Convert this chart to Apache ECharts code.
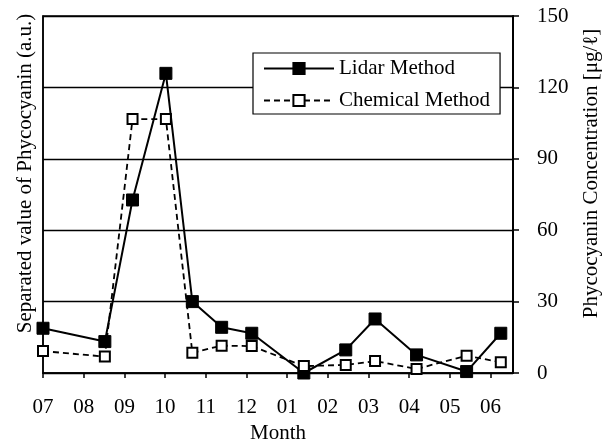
<!DOCTYPE html>
<html>
<head>
<meta charset="utf-8">
<script src="https://cdn.jsdelivr.net/npm/echarts@6/dist/echarts.min.js"></script>
<style>html,body{margin:0;padding:0;background:#fff}#c{width:608px;height:445px}</style>
</head>
<body>
<div id="c"></div>
<script>
var monthLabels = ['07','08','09','10','11','12','01','02','03','04','05','06'];
var samplePos = [0, 1.52, 2.2, 3.02, 3.67, 4.39, 5.13, 6.41, 7.44, 8.16, 9.18, 10.41, 11.25];
var lidarValues = [18.8, 13.2, 72.7, 125.9, 30.0, 19.2, 16.7, 0, 9.7, 22.7, 7.6, 0.6, 16.7];
var chemicalValues = [9.2, 6.9, 106.7, 106.7, 8.5, 11.5, 11.3, 2.9, 3.4, 5.0, 1.7, 7.3, 4.5];
var rightTicks = [0, 30, 60, 90, 120, 150];

var FONT = 'Liberation Serif';
var FS = 21;
function pairs(xs, ys){ return xs.map(function(x,i){ return [x, ys[i]]; }); }
var tickIdx = monthLabels.map(function(_, i){ return i; });

var chart = echarts.init(document.getElementById('c'), null, {renderer:'canvas'});
chart.setOption({
  backgroundColor: '#fff',
  animation: false,
  textStyle: {fontFamily: FONT, color: '#000'},
  grid: {left: 43, right: 95, top: 16, bottom: 72, show: true, borderColor: '#000', borderWidth: 1.5,
    backgroundColor: 'transparent', outerBoundsMode: 'none', containLabel: false},
  legend: {
    orient: 'vertical', left: 253, top: 53,
    backgroundColor: '#fff', borderColor: '#000', borderWidth: 1.2,
    padding: [5, 10, 3, 10], itemGap: 11, itemWidth: 70, itemHeight: 14,
    textStyle: {fontFamily: FONT, fontSize: FS, color: '#000'},
    data: ['Lidar Method', 'Chemical Method']
  },
  xAxis: {
    type: 'value', min: 0, max: 11.55, interval: 1,
    name: 'Month', nameLocation: 'middle', nameGap: 49,
    nameTextStyle: {fontFamily: FONT, fontSize: FS, color: '#000'},
    axisLine: {show: true, onZero: false, lineStyle: {color: '#000', width: 1.5}},
    axisTick: {show: true, length: 5, customValues: tickIdx, lineStyle: {color: '#000', width: 1.5}},
    axisLabel: {customValues: tickIdx, margin: 24, fontFamily: FONT, fontSize: FS, color: '#000',
      formatter: function(v){ var i = Math.round(v); return monthLabels[i] || ''; }},
    splitLine: {show: false}
  },
  yAxis: [
    {
      type: 'value', position: 'left', min: 0, max: 150, interval: 30,
      name: 'Separated value of Phycocyanin (a.u.)', nameLocation: 'middle', nameGap: 7,
      nameTextStyle: {fontFamily: FONT, fontSize: FS, color: '#000', padding: [0, 0, 0, 42]},
      axisLine: {show: true, lineStyle: {color: '#000', width: 1.5}},
      axisTick: {show: false}, axisLabel: {show: false}, splitLine: {show: false}
    },
    {
      type: 'value', position: 'right', min: 0, max: 150, interval: 30,
      name: 'Phycocyanin Concentration [μg/ℓ]', nameLocation: 'middle', nameGap: 68,
      nameTextStyle: {fontFamily: FONT, fontSize: FS, color: '#000', padding: [0, 0, 0, 42]},
      axisLine: {show: true, lineStyle: {color: '#000', width: 2}},
      axisTick: {show: true, length: 6, lineStyle: {color: '#000', width: 1.5}},
      axisLabel: {margin: 24, fontFamily: FONT, fontSize: FS, color: '#000',
        formatter: function(v){ return rightTicks.indexOf(v) >= 0 ? String(v) : ''; }},
      splitLine: {show: true, lineStyle: {color: '#000', width: 1.3}}
    }
  ],
  series: [
    {
      name: 'Lidar Method', type: 'line', yAxisIndex: 1,
      data: pairs(samplePos, lidarValues),
      symbol: 'rect', symbolSize: 12, showAllSymbol: true,
      lineStyle: {color: '#000', width: 2, type: 'solid'},
      itemStyle: {color: '#000', borderColor: '#000', borderWidth: 1},
      z: 3
    },
    {
      name: 'Chemical Method', type: 'line', yAxisIndex: 1,
      data: pairs(samplePos, chemicalValues),
      symbol: 'rect', symbolSize: 10, showAllSymbol: true,
      lineStyle: {color: '#000', width: 1.8, type: [6, 4]},
      itemStyle: {color: '#fff', borderColor: '#000', borderWidth: 2},
      z: 4
    }
  ]
});
</script>
</body>
</html>
